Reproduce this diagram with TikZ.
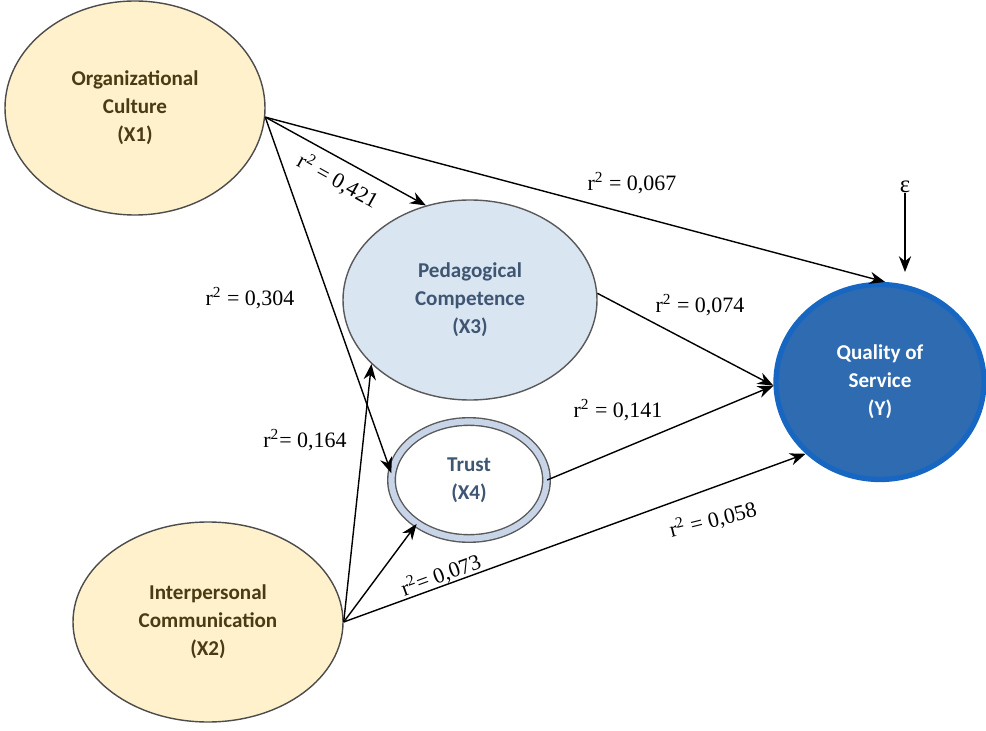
\documentclass[tikz,border=0pt]{standalone}
\usepackage{fontspec}
\setmainfont{Liberation Serif}
\newfontfamily\calfont{Carlito}
\usepackage{xcolor}
\usepackage{tikz}
\usetikzlibrary{shapes.geometric}
\usetikzlibrary{arrows.meta}
\pgfdeclarelayer{nodelayer}
\pgfdeclarelayer{edgelayer}
\pgfsetlayers{nodelayer,edgelayer,main}
\definecolor{cream}{HTML}{FFF1CB}
\definecolor{olivetext}{HTML}{4A3B14}
\definecolor{paleblue}{HTML}{DAE5F2}
\definecolor{bandblue}{HTML}{C8D5E8}
\definecolor{slatetext}{HTML}{3E5672}
\definecolor{deepblue}{HTML}{2E6BB0}
\definecolor{rimblue}{HTML}{1767C2}
\tikzset{
    none/.style = {inner sep=0pt},
    latent/.style = {ellipse, inner sep=0pt, align=center, line width=0.8pt,
        font=\calfont\bfseries\fontsize{12}{16}\selectfont},
    exo/.style = {latent, draw=black!70, fill=cream, text=olivetext},
    medi/.style = {latent, draw=black!65, fill=paleblue, text=slatetext},
    ring/.style = {latent, draw=black!65, double=bandblue, double distance=3.5pt, fill=white, text=slatetext},
    endo/.style = {latent, draw=rimblue, line width=3pt, fill=deepblue, text=white},
    coef/.style = {inner sep=0pt, font=\fontsize{12.5}{14}\selectfont},
    link/.style = {-{Stealth[length=9pt,width=7pt]}, line width=0.8pt}
}
\begin{document}
\begin{tikzpicture}
    \useasboundingbox (0, 0) rectangle (19.72, 14.6);
    \begin{pgfonlayer}{nodelayer}
        \node [style=exo, minimum width=5.2cm, minimum height=4.28cm] (0) at (2.7, 12.44) {Organizational\\Culture\\(X1)};
        \node [style=exo, minimum width=5.4cm, minimum height=4cm] (1) at (4.16, 2.16) {Interpersonal\\Communication\\(X2)};
        \node [style=medi, minimum width=5.08cm, minimum height=4cm] (2) at (9.4, 8.6) {Pedagogical\\Competence\\(X3)};
        \node [style=ring, minimum width=3.1cm, minimum height=2.34cm] (3) at (9.38, 5) {Trust\\(X4)};
        \node [style=endo, minimum width=4.16cm, minimum height=3.9cm] (4) at (17.6, 6.96) {Quality of\\Service\\(Y)};
        \node [style=none, font=\fontsize{14}{14}\selectfont] (5) at (18.1, 10.86) {ε};
        \coordinate (6) at (18.1, 9.16);
        \node [style=coef, rotate=-29] (7) at (6.76, 10.98) {r\textsuperscript{2} = 0,421};
        \node [style=coef] (8) at (12.64, 10.94) {r\textsuperscript{2} = 0,067};
        \node [style=coef] (9) at (5, 8.64) {r\textsuperscript{2} = 0,304};
        \node [style=coef] (10) at (14, 8.5) {r\textsuperscript{2} = 0,074};
        \node [style=coef] (11) at (12.36, 6.4) {r\textsuperscript{2} = 0,141};
        \node [style=coef] (12) at (6.1, 5.8) {r\textsuperscript{2}= 0,164};
        \node [style=coef, rotate=20] (13) at (8.82, 3.1) {r\textsuperscript{2}= 0,073};
        \node [style=coef, rotate=14] (14) at (14.26, 4.2) {r\textsuperscript{2} = 0,058};
    \end{pgfonlayer}
    \begin{pgfonlayer}{edgelayer}
        % X1 paths all leave from one point
        \draw [style=link] (0.-4) to (4.87);
        \draw [style=link] (0.-4) to (2.115);
        \draw [style=link] (0.-4) to (3.175);
        % X2 paths
        \draw [style=link] (1.east) to (2.213);
        \draw [style=link] (1.east) to (3.220);
        \draw [style=link] (1.east) to (4.224);
        % into Y, tips meet at the west side
        \draw [style=link] (2.3) to (4.182);
        \draw [style=link] (3.east) to (4.182);
        \draw [style=link] (5) to (6);
    \end{pgfonlayer}
\end{tikzpicture}
\end{document}
